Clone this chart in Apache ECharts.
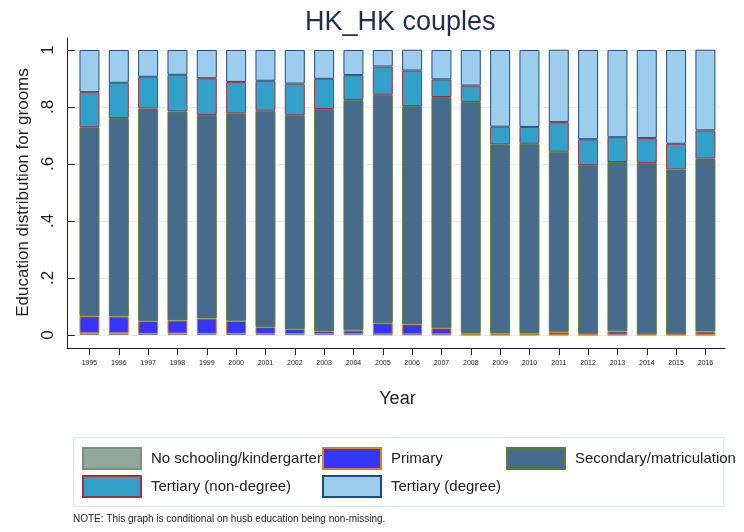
<!DOCTYPE html>
<html>
<head>
<meta charset="utf-8">
<script src="https://cdn.jsdelivr.net/npm/echarts@6/dist/echarts.min.js"></script>
<style>
  html, body { margin: 0; padding: 0; background: #ffffff; }
  #chart { width: 744px; height: 532px; }
</style>
</head>
<body>
<div id="chart"></div>
<script>
// Survey years on the horizontal axis
const years = ['1995', '1996', '1997', '1998', '1999', '2000', '2001', '2002', '2003', '2004', '2005',
               '2006', '2007', '2008', '2009', '2010', '2011', '2012', '2013', '2014', '2015', '2016'];

// Share of grooms by education level, per year (each column sums to 1)
const noSchooling = [0.006, 0.006, 0.004, 0.005, 0.004, 0.004, 0.003, 0.003, 0.003, 0.003, 0.002,
                     0.002, 0.002, 0.001, 0.001, 0.001, 0.001, 0.001, 0.001, 0.001, 0.001, 0.001];
const primary = [0.060, 0.059, 0.045, 0.046, 0.054, 0.046, 0.025, 0.018, 0.011, 0.013, 0.040,
                 0.036, 0.022, 0.006, 0.006, 0.006, 0.010, 0.003, 0.012, 0.002, 0.002, 0.011];
const secondary = [0.663, 0.696, 0.746, 0.733, 0.714, 0.728, 0.759, 0.750, 0.779, 0.809, 0.801,
                   0.765, 0.811, 0.811, 0.662, 0.664, 0.632, 0.592, 0.594, 0.601, 0.578, 0.607];
const tertiaryNonDegree = [0.123, 0.124, 0.111, 0.129, 0.129, 0.110, 0.105, 0.111, 0.106, 0.087, 0.099,
                           0.125, 0.062, 0.057, 0.062, 0.059, 0.104, 0.091, 0.087, 0.087, 0.090, 0.099];
const tertiaryDegree = [0.148, 0.115, 0.094, 0.087, 0.099, 0.112, 0.108, 0.118, 0.101, 0.088, 0.058,
                        0.073, 0.103, 0.125, 0.269, 0.270, 0.254, 0.313, 0.306, 0.309, 0.329, 0.283];

// Vertical axis tick labels
const yTickLabels = { 0: '0', 0.2: '.2', 0.4: '.4', 0.6: '.6', 0.8: '.8', 1: '1' };

const FONT = "'Liberation Sans', Arial, Helvetica, sans-serif";
const INK = '#222222';

// Value range of the bar panel: a little room below zero, as in Stata's plot region
const BAR_MIN = -0.0456;

const levels = [
  { name: 'No schooling/kindergarten', values: noSchooling,       fill: '#8fa89b', edge: '#7d8f7c' },
  { name: 'Primary',                   values: primary,           fill: '#3535fb', edge: '#e0801f' },
  { name: 'Secondary/matriculation',   values: secondary,         fill: '#476b8a', edge: '#5b7a36' },
  { name: 'Tertiary (non-degree)',     values: tertiaryNonDegree, fill: '#32a0c9', edge: '#a2303d' },
  { name: 'Tertiary (degree)',         values: tertiaryDegree,    fill: '#9dcdec', edge: '#1d4d84' }
];

const barSeries = levels.map(l => ({
  name: l.name,
  type: 'bar',
  stack: 'education',
  barWidth: 20,
  xAxisIndex: 0,
  yAxisIndex: 0,
  itemStyle: { color: l.fill, borderColor: l.edge, borderWidth: 1 },
  emphasis: { disabled: true },
  data: l.values
}));

// Legend laid out as two rows of swatches
const legendSlots = [
  { item: levels[0].name, left: 82,  top: 447 },
  { item: levels[1].name, left: 322, top: 447 },
  { item: levels[2].name, left: 506, top: 447 },
  { item: levels[3].name, left: 82,  top: 475 },
  { item: levels[4].name, left: 322, top: 475 }
];
const legends = legendSlots.map(s => ({
  data: [s.item],
  left: s.left,
  top: s.top,
  padding: 0,
  icon: 'rect',
  itemWidth: 58,
  itemHeight: 21,
  selectedMode: false,
  textStyle: { fontSize: 15, color: INK, fontFamily: FONT, padding: [0, 0, 0, 5] }
}));

const hiddenAxis = {
  axisLine: { show: false },
  axisTick: { show: false },
  axisLabel: { show: false },
  splitLine: { show: false }
};

const chart = echarts.init(document.getElementById('chart'), null, { renderer: 'canvas' });

chart.setOption({
  backgroundColor: '#ffffff',
  animation: false,
  textStyle: { fontFamily: FONT },
  title: {
    text: 'HK_HK couples',
    left: 300,
    top: 4,
    textStyle: { fontSize: 27, fontWeight: 'normal', color: '#1f2e52', fontFamily: FONT }
  },
  legend: legends,
  grid: [
    // bar panel with the year axis along its bottom edge
    { left: 74.8, right: 23.9, top: 50, bottom: 184, containLabel: false },
    // outer frame that carries the axis lines
    { left: 67, right: 19, top: 38, bottom: 184, containLabel: false },
    // 0..1 band carrying the vertical ticks, labels and reference lines
    { left: 74.8, right: 23.9, top: 50, bottom: 197, containLabel: false }
  ],
  xAxis: [
    {
      type: 'category',
      gridIndex: 0,
      data: years,
      boundaryGap: true,
      name: 'Year',
      nameLocation: 'middle',
      nameGap: 42,
      nameTextStyle: { fontSize: 18, color: INK, fontFamily: FONT },
      axisLine: { show: false, onZero: false },
      axisTick: { show: true, alignWithLabel: true, length: 7, lineStyle: { color: INK } },
      axisLabel: { fontSize: 7, color: INK, margin: 12, interval: 0 },
      splitLine: { show: false }
    },
    {
      type: 'value',
      gridIndex: 1,
      min: 0, max: 1,
      ...hiddenAxis,
      axisLine: { show: true, onZero: false, lineStyle: { color: INK, width: 1 } }
    },
    {
      type: 'value',
      gridIndex: 2,
      min: 0, max: 1,
      ...hiddenAxis
    }
  ],
  yAxis: [
    {
      type: 'value',
      gridIndex: 0,
      min: BAR_MIN, max: 1,
      ...hiddenAxis
    },
    {
      type: 'value',
      gridIndex: 1,
      min: 0, max: 1,
      ...hiddenAxis,
      axisLine: { show: true, onZero: false, lineStyle: { color: INK, width: 1 } }
    },
    {
      type: 'value',
      gridIndex: 2,
      min: 0, max: 1, interval: 0.2,
      offset: 7.8,
      name: 'Education distribution for grooms',
      nameLocation: 'middle',
      nameGap: 34,
      nameTextStyle: { fontSize: 17, color: INK, fontFamily: FONT },
      axisLine: { show: false },
      axisTick: { show: true, length: 7, lineStyle: { color: INK } },
      axisLabel: {
        fontSize: 17, color: INK, margin: 10, rotate: 90,
        formatter: v => yTickLabels[Math.round(v * 10) / 10] ?? ''
      },
      splitLine: { show: true, lineStyle: { color: '#e6eef0', width: 1 } }
    }
  ],
  graphic: [
    {
      type: 'rect',
      left: 73, top: 437, z: -1,
      shape: { width: 650, height: 69 },
      style: { fill: '#ffffff', stroke: '#dde6e6', lineWidth: 1 }
    },
    {
      type: 'text',
      left: 73, top: 514,
      style: { text: 'NOTE: This graph is conditional on husb education being non-missing.',
               fontSize: 10, fill: INK, fontFamily: FONT }
    }
  ],
  series: barSeries
});
</script>
</body>
</html>
